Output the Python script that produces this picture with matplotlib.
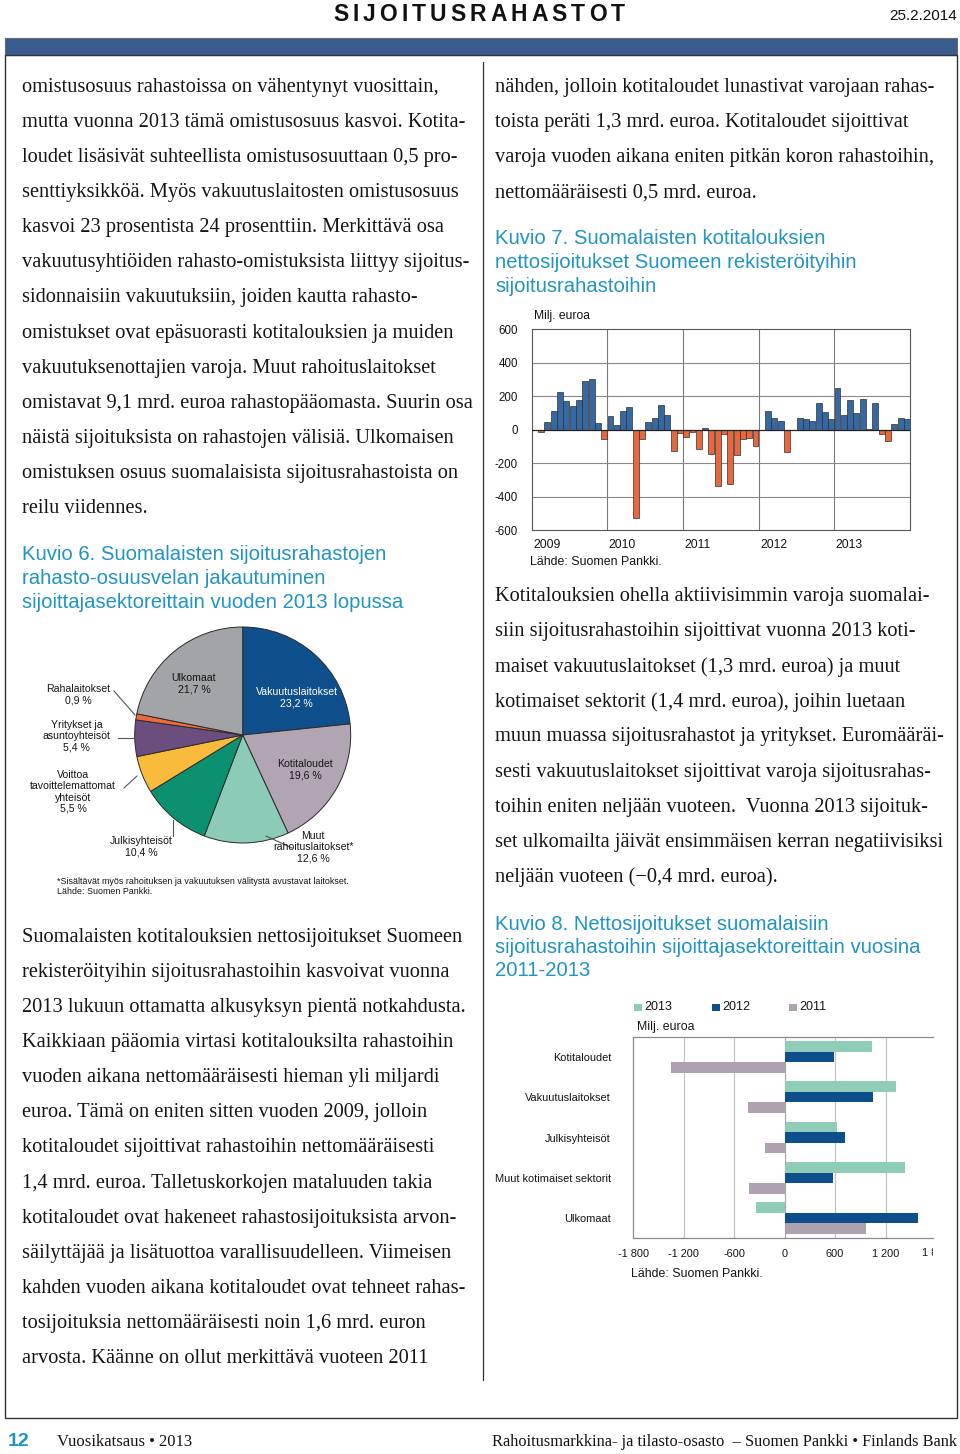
import matplotlib
matplotlib.use('Agg')
import matplotlib.pyplot as plt
from matplotlib.patches import Rectangle
from matplotlib.transforms import Bbox, blended_transform_factory
import numpy as np

# ---------------- data ----------------
body_left_1 = [
    "omistusosuus rahastoissa on vähentynyt vuosittain,",
    "mutta vuonna 2013 tämä omistusosuus kasvoi. Kotita-",
    "loudet lisäsivät suhteellista omistusosuuttaan 0,5 pro-",
    "senttiyksikköä. Myös vakuutuslaitosten omistusosuus",
    "kasvoi 23 prosentista 24 prosenttiin. Merkittävä osa",
    "vakuutusyhtiöiden rahasto-omistuksista liittyy sijoitus-",
    "sidonnaisiin vakuutuksiin, joiden kautta rahasto-",
    "omistukset ovat epäsuorasti kotitalouksien ja muiden",
    "vakuutuksenottajien varoja. Muut rahoituslaitokset",
    "omistavat 9,1 mrd. euroa rahastopääomasta. Suurin osa",
    "näistä sijoituksista on rahastojen välisiä. Ulkomaisen",
    "omistuksen osuus suomalaisista sijoitusrahastoista on",
    "reilu viidennes.",
]
title6 = ["Kuvio 6. Suomalaisten sijoitusrahastojen",
          "rahasto-osuusvelan jakautuminen",
          "sijoittajasektoreittain vuoden 2013 lopussa"]
body_left_2 = [
    "Suomalaisten kotitalouksien nettosijoitukset Suomeen",
    "rekisteröityihin sijoitusrahastoihin kasvoivat vuonna",
    "2013 lukuun ottamatta alkusyksyn pientä notkahdusta.",
    "Kaikkiaan pääomia virtasi kotitalouksilta rahastoihin",
    "vuoden aikana nettomääräisesti hieman yli miljardi",
    "euroa. Tämä on eniten sitten vuoden 2009, jolloin",
    "kotitaloudet sijoittivat rahastoihin nettomääräisesti",
    "1,4 mrd. euroa. Talletuskorkojen mataluuden takia",
    "kotitaloudet ovat hakeneet rahastosijoituksista arvon-",
    "säilyttäjää ja lisätuottoa varallisuudelleen. Viimeisen",
    "kahden vuoden aikana kotitaloudet ovat tehneet rahas-",
    "tosijoituksia nettomääräisesti noin 1,6 mrd. euron",
    "arvosta. Käänne on ollut merkittävä vuoteen 2011",
]
body_right_1 = [
    "nähden, jolloin kotitaloudet lunastivat varojaan rahas-",
    "toista peräti 1,3 mrd. euroa. Kotitaloudet sijoittivat",
    "varoja vuoden aikana eniten pitkän koron rahastoihin,",
    "nettomääräisesti 0,5 mrd. euroa.",
]
title7 = ["Kuvio 7. Suomalaisten kotitalouksien",
          "nettosijoitukset Suomeen rekisteröityihin",
          "sijoitusrahastoihin"]
body_right_2 = [
    "Kotitalouksien ohella aktiivisimmin varoja suomalai-",
    "siin sijoitusrahastoihin sijoittivat vuonna 2013 koti-",
    "maiset vakuutuslaitokset (1,3 mrd. euroa) ja muut",
    "kotimaiset sektorit (1,4 mrd. euroa), joihin luetaan",
    "muun muassa sijoitusrahastot ja yritykset. Euromääräi-",
    "sesti vakuutuslaitokset sijoittivat varoja sijoitusrahas-",
    "toihin eniten neljään vuoteen.  Vuonna 2013 sijoituk-",
    "set ulkomailta jäivät ensimmäisen kerran negatiivisiksi",
    "neljään vuoteen (\u22120,4 mrd. euroa).",
]
title8 = ["Kuvio 8. Nettosijoitukset suomalaisiin",
          "sijoitusrahastoihin sijoittajasektoreittain vuosina",
          "2011-2013"]

# Kuvio 6 (pie), clockwise from 12 o'clock
pie_labels = ["Vakuutuslaitokset\n23,2 %", "Kotitaloudet\n19,6 %",
              "Muut\nrahoituslaitokset*\n12,6 %", "Julkisyhteisöt\n10,4 %",
              "Voittoa\ntavoittelemattomat\nyhteisöt\n5,5 %",
              "Yritykset ja\nasuntoyhteisöt\n5,4 %", "Rahalaitokset\n0,9 %",
              "Ulkomaat\n21,7 %"]
pie_shares = [23.2, 19.6, 12.6, 10.4, 5.5, 5.4, 0.9, 21.7]
pie_colors = ['#0f4f8c', '#b1a5b4', '#8dcbb9', '#0b9170', '#f9bb3c',
              '#6c4e7e', '#ec6b3c', '#a3a4a7']

# Kuvio 7 (monthly, 2009-2013, milj. euroa)
years7 = ["2009", "2010", "2011", "2012", "2013"]
net_2009 = [0, -15, 44, 114, 224, 170, 140, 180, 290, 300, 40, -56]
net_2010 = [80, 28, 110, 134, -528, -53, 43, 68, 150, 89, -125, -22]
net_2011 = [-42, -16, -117, 12, -143, -336, -26, -322, -151, -57, -52, -99]
net_2012 = [0, 111, 67, 53, -136, -2, 72, 65, 53, 159, 107, 65]
net_2013 = [252, 85, 179, 99, 185, 4, 157, -24, -65, 34, 69, 65]
y7_ticks = [-600, -400, -200, 0, 200, 400, 600]

# Kuvio 8
sectors8 = ["Kotitaloudet", "Vakuutuslaitokset", "Julkisyhteisöt",
            "Muut kotimaiset sektorit", "Ulkomaat"]
v2013 = [1037, 1323, 620, 1434, -346]
v2012 = [592, 1049, 715, 572, 1585]
v2011 = [-1347, -441, -234, -425, 969]
x8_ticks = [-1800, -1200, -600, 0, 600, 1200]
x8_labels = ["-1 800", "-1 200", "-600", "0", "600", "1 200"]

# ---------------- figure ----------------
W, H = 960, 1454
fig = plt.figure(figsize=(9.6, 14.54), dpi=100)
page = fig.add_axes([0, 0, 1, 1], zorder=0)
page.set_xlim(0, W)
page.set_ylim(H, 0)
page.axis('off')

SANS = 'Liberation Sans'
SERIF = 'Liberation Serif'
TEAL = '#2094c2'
TXT = '#151515'
BODY = 14.7
TSIZE = 14.6


def figrect(x0, y0, x1, y1):
    return [x0 / W, 1 - y1 / H, (x1 - x0) / W, (y1 - y0) / H]


def lines_at(lines, x, y0, dy, **kw):
    for i, s in enumerate(lines):
        page.text(x, y0 + i * dy, s, va='center', ha='left', **kw)


# header
renderer = fig.canvas.get_renderer()
hdr = "SIJOITUSRAHASTOT"
objs, ws = [], []
for ch in hdr:
    t = page.text(0, 14.5, ch, family=SANS, fontsize=16.5, weight='bold',
                  va='center', ha='left', color='#111')
    objs.append(t)
    ws.append(t.get_window_extent(renderer).width)
gap = (625 - 333 - sum(ws)) / (len(hdr) - 1)
xx = 333
for t, w in zip(objs, ws):
    t.set_x(xx)
    xx += w + gap
page.text(957, 16.5, "25.2.2014", family=SANS, fontsize=11, ha='right',
          va='center', color='#111')

page.add_patch(Rectangle((5, 38), 952, 17, fc='#3a5b8e', ec='#6b6b6b', lw=0.8))
page.add_patch(Rectangle((5, 55), 952, 1363, fill=False, ec='#333', lw=1.0))
page.plot([483, 483], [62, 1380], color='#333', lw=0.9)

# body texts
lines_at(body_left_1, 22, 87.5, 35.08, family=SERIF, fontsize=BODY, color=TXT)
lines_at(title6, 22, 555, 23.5, family=SANS, fontsize=TSIZE, color=TEAL)
lines_at(body_left_2, 22, 937.5, 35.08, family=SERIF, fontsize=BODY, color=TXT)
lines_at(body_right_1, 495, 87.5, 35.08, family=SERIF, fontsize=BODY, color=TXT)
lines_at(title7, 495, 239, 23.5, family=SANS, fontsize=TSIZE, color=TEAL)
lines_at(body_right_2, 495, 596.5, 35.1, family=SERIF, fontsize=BODY, color=TXT)
lines_at(title8, 495, 924, 23.5, family=SANS, fontsize=TSIZE, color=TEAL)

# footer
page.text(8, 1442, "12", family=SANS, fontsize=14, weight='bold', color=TEAL,
          va='center', ha='left')
page.text(57, 1442, "Vuosikatsaus \u2022 2013", family=SERIF, fontsize=12,
          va='center', ha='left', color=TXT)
page.text(957, 1442, "Rahoitusmarkkina- ja tilasto-osasto  \u2013 Suomen Pankki \u2022 Finlands Bank",
          family=SERIF, fontsize=11.8, va='center', ha='right', color=TXT)

# ---------------- Kuvio 6: pie ----------------
cx, cy, R = 242.7, 735, 108
axp = fig.add_axes(figrect(cx - R, cy - R, cx + R, cy + R), zorder=2)
axp.pie(pie_shares, colors=pie_colors, startangle=90, counterclock=False,
        radius=1, wedgeprops=dict(edgecolor='#2b2b2b', linewidth=0.7))
axp.set_xlim(-1, 1)
axp.set_ylim(-1, 1)
axp.set_aspect('auto')
axp.axis('off')
PS = 7.6
pt = page.transData
label_pos = [(296.7, 698, 'white'), (305, 770, TXT), (313, 847, TXT),
             (141.7, 847, TXT), (73, 792, TXT), (76.7, 736, TXT),
             (78, 695, TXT), (194, 684, TXT)]
for lab, (lx, ly, c) in zip(pie_labels, label_pos):
    axp.text(lx, ly, lab, transform=pt, family=SANS, fontsize=PS, color=c,
             ha='center', va='center', linespacing=1.15, clip_on=False)
leaders = [((266, 836), (292, 848)), ((173, 820), (173, 836)),
           ((137, 776), (124, 788)), ((136, 738), (118, 738)),
           ((135, 715), (114, 691))]
for (a, b) in leaders:
    axp.plot([a[0], b[0]], [a[1], b[1]], transform=pt, color='#555', lw=0.8,
             clip_on=False)
page.text(57, 881, "*Sisältävät myös rahoituksen ja vakuutuksen välitystä avustavat laitokset.",
          family=SANS, fontsize=6.4, va='center', ha='left', color=TXT)
page.text(57, 892, "Lähde: Suomen Pankki.", family=SANS, fontsize=6.4,
          va='center', ha='left', color=TXT)

# ---------------- Kuvio 7: monthly bars ----------------
BLUE = '#3669a1'
ORANGE = '#e7683c'
vals7 = net_2009 + net_2010 + net_2011 + net_2012 + net_2013
ax7 = fig.add_axes(figrect(531.7, 329.3, 910, 530), zorder=2)
xi = np.arange(len(vals7))
cols = [BLUE if v >= 0 else ORANGE for v in vals7]
ax7.bar(xi, vals7, width=0.94, color=cols, edgecolor='#303030', linewidth=0.5,
        zorder=3)
ax7.set_xlim(-0.5, len(vals7) - 0.5)
ax7.set_ylim(-600, 600)
ax7.set_yticks(y7_ticks)
ax7.set_yticklabels([str(v) for v in y7_ticks], family=SANS)
ax7.set_xticks([])
ax7.tick_params(axis='y', length=0, labelsize=8.3, pad=10, labelcolor=TXT)
for k in range(1, len(years7)):
    ax7.axvline(12 * k - 0.5, color='#7a7a7a', lw=0.8, zorder=1)
for yv in [-400, -200, 200, 400]:
    ax7.axhline(yv, color='#8a8a8a', lw=0.8, zorder=1)
ax7.axhline(0, color='#222', lw=0.9, zorder=4)
for s in ax7.spines.values():
    s.set_color('#555')
    s.set_linewidth(0.8)
bt = blended_transform_factory(ax7.transData, ax7.transAxes)
for k, yr in enumerate(years7):
    ax7.text(12 * k - 0.3, -0.075, yr, transform=bt, family=SANS, fontsize=8.7,
             ha='left', va='center', color=TXT)
page.text(534, 316, "Milj. euroa", family=SANS, fontsize=8.7, ha='left',
          va='center', color=TXT)
page.text(530, 562, "Lähde: Suomen Pankki.", family=SANS, fontsize=8.9,
          ha='left', va='center', color=TXT)

# ---------------- Kuvio 8: horizontal bars ----------------
C13, C12, C11 = '#8fcdb9', '#0d4f8b', '#b0a1b1'
ax8 = fig.add_axes(figrect(633.3, 1036.7, 933.3, 1238.3), zorder=2)
yi = np.arange(len(sectors8))
hb = 0.262
ax8.barh(yi - hb, v2013, height=hb, color=C13, zorder=3)
ax8.barh(yi, v2012, height=hb, color=C12, zorder=3)
ax8.barh(yi + hb, v2011, height=hb, color=C11, zorder=3)
ax8.set_ylim(len(sectors8) - 0.5, -0.5)
ax8.set_xlim(-1800, 1768)
ax8.set_xticks(x8_ticks)
ax8.set_xticklabels(x8_labels, family=SANS)
ax8.set_yticks(yi)
ax8.set_yticklabels(sectors8, family=SANS)
ax8.tick_params(length=0, labelsize=7.9, labelcolor=TXT)
ax8.tick_params(axis='x', pad=7.5)
ax8.tick_params(axis='y', pad=16)
for xv in [-1200, -600, 600, 1200]:
    ax8.axvline(xv, color='#c4c4c4', lw=0.9, zorder=1)
ax8.axvline(0, color='#a8a8a8', lw=0.9, zorder=1)
ax8.spines['right'].set_visible(False)
for k in ['left', 'top', 'bottom']:
    ax8.spines[k].set_color('#8a8a8a')
    ax8.spines[k].set_linewidth(0.9)
# clipped last tick label (1 800) as in the source
clip = Bbox.from_extents(0, 0, 933.3, H)
t18 = page.text(935.7, 1253, "1 800", family=SANS, fontsize=7.9, ha='center',
                va='center', color=TXT, clip_on=True)
t18.set_clip_box(clip)
for (x0, lab, c) in [(634, "2013", C13), (712, "2012", C12), (789, "2011", C11)]:
    page.add_patch(Rectangle((x0, 1003.5), 7.5, 7.5, fc=c, ec='none'))
    page.text(x0 + 10, 1007.5, lab, family=SANS, fontsize=9, ha='left',
              va='center', color=TXT)
page.text(637, 1027, "Milj. euroa", family=SANS, fontsize=8.9, ha='left',
          va='center', color=TXT)
page.text(631, 1274, "Lähde: Suomen Pankki.", family=SANS, fontsize=8.9,
          ha='left', va='center', color=TXT)

fig.savefig('out.png', dpi=100)
